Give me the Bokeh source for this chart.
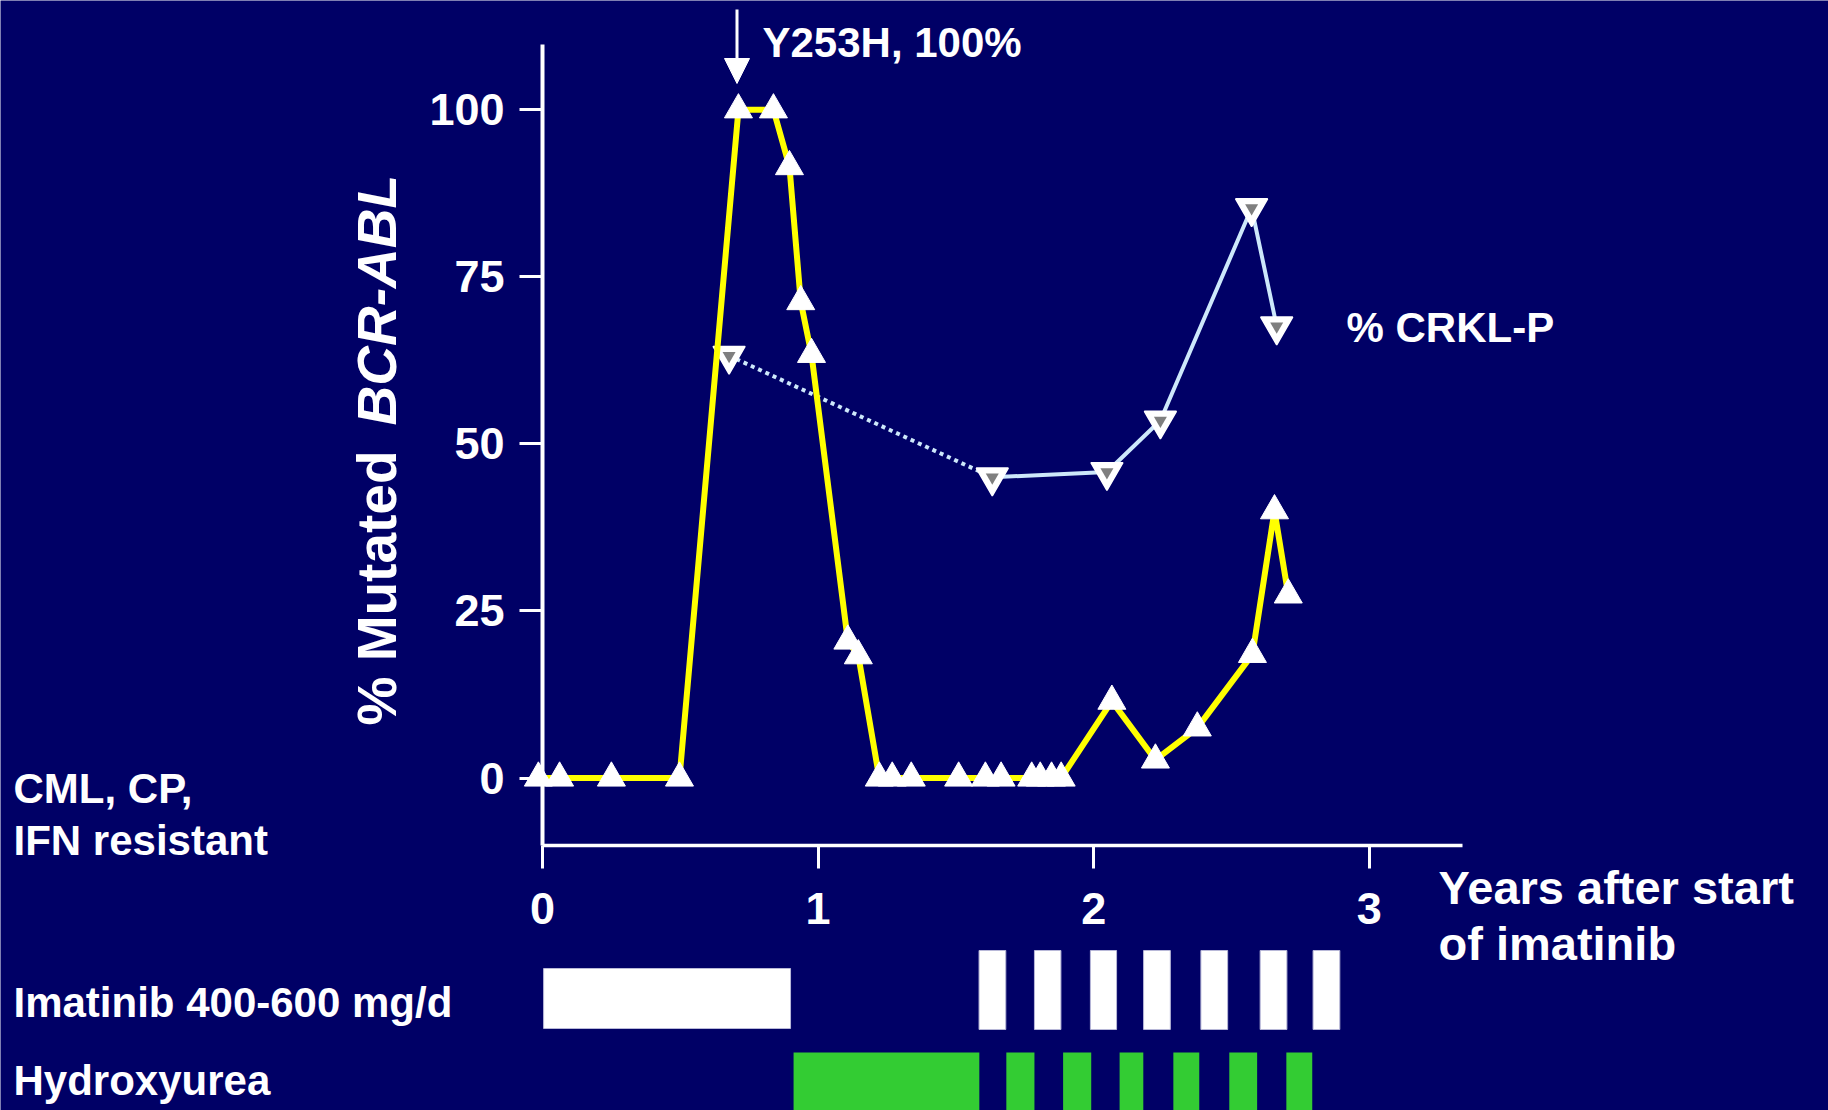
from math import pi
from bokeh.plotting import figure
from bokeh.models import (Range1d, LinearAxis, FixedTicker, Label, Arrow, NormalHead)
from bokeh.embed import file_html
from bokeh.resources import INLINE

# ---------------- data ----------------
# % mutated BCR-ABL (Y253H) over years after start of imatinib
mut_years = [-0.015, 0.062, 0.25, 0.497, 0.711, 0.838, 0.896, 0.937, 0.976, 1.108, 1.146,
             1.222, 1.269, 1.338, 1.51, 1.607, 1.664, 1.775, 1.806, 1.847, 1.882,
             2.066, 2.224, 2.376, 2.576, 2.656, 2.706]
mut_pct = [0, 0, 0, 0, 100, 100, 91.5, 71.3, 63.4, 20.5, 18.3,
           0, 0, 0, 0, 0, 0, 0, 0, 0, 0,
           11.5, 2.7, 7.5, 18.5, 40.0, 27.4]

# % CRKL-P
crkl_years = [0.677, 1.632, 2.048, 2.242, 2.573, 2.664]
crkl_pct = [63.2, 45.0, 45.8, 53.5, 85.3, 67.6]

# treatment periods (years)
imatinib_start = [0.004, 1.584, 1.785, 1.988, 2.181, 2.389, 2.604, 2.796]
imatinib_end = [0.900, 1.681, 1.881, 2.083, 2.278, 2.486, 2.701, 2.893]
hydroxy_start = [0.911, 1.683, 1.889, 2.094, 2.289, 2.492, 2.699]
hydroxy_end = [1.585, 1.785, 1.991, 2.180, 2.383, 2.593, 2.793]

x_ticks = [0, 1, 2, 3]
y_ticks = [0, 25, 50, 75, 100]
mutation_label = "Y253H, 100%"

# ---------------- layout helpers ----------------
W, H = 1828, 1110
X0_PX, PX_PER_YEAR = 542.0, 275.6
Y0_PX, PX_PER_PCT = 777.5, 6.682


def X(px):
    return (px - X0_PX) / PX_PER_YEAR


def Y(py):
    return (Y0_PX - py) / PX_PER_PCT


BG = "#000066"
FONT = "Liberation Sans"

p = figure(width=W, height=H, output_backend="svg", toolbar_location=None,
           x_range=Range1d(X(0), X(W)), y_range=Range1d(Y(H), Y(0)),
           x_axis_type=None, y_axis_type=None, min_border=0,
           background_fill_color=BG, border_fill_color=BG, outline_line_color=None)
p.xgrid.visible = False
p.ygrid.visible = False

# axes
yaxis = LinearAxis(fixed_location=0, bounds=(Y(845), Y(44)),
                   ticker=FixedTicker(ticks=y_ticks))
xaxis = LinearAxis(fixed_location=Y(845), bounds=(0, X(1462)),
                   ticker=FixedTicker(ticks=x_ticks))
for ax in (yaxis, xaxis):
    ax.axis_line_color = "white"
    ax.major_tick_line_color = "white"
    ax.major_tick_line_width = 3
    ax.minor_tick_line_color = None
    ax.major_tick_in = 0
    ax.major_tick_out = 23
    ax.major_label_text_color = "white"
    ax.major_label_text_font = FONT
    ax.major_label_text_font_style = "bold"
    ax.major_label_text_font_size = "45px"
yaxis.axis_line_width = 4
xaxis.axis_line_width = 3.5
yaxis.major_label_standoff = 15
xaxis.major_label_standoff = 24
p.add_layout(yaxis, "left")
p.add_layout(xaxis, "below")

# CRKL-P line (first segment dotted)
p.line(crkl_years[:2], crkl_pct[:2], line_color="#cde8fb", line_width=4, line_dash="4 4")
p.line(crkl_years[1:], crkl_pct[1:], line_color="#cde8fb", line_width=4)
p.scatter(crkl_years, crkl_pct, marker="inverted_triangle", size=32,
          fill_color="white", line_color="white", line_width=1.5)
p.scatter(crkl_years, crkl_pct, marker="inverted_triangle", size=13,
          fill_color="#7f7f7f", line_color=None)

# mutated BCR-ABL line
p.line(mut_years, mut_pct, line_color="#ffff00", line_width=6)
p.scatter(mut_years, mut_pct, marker="triangle", size=28,
          fill_color="white", line_color="white", line_width=1)

# treatment bars
first_top, first_bottom = Y(968), Y(1028)
narrow_top, narrow_bottom = Y(950), Y(1029)
p.quad(left=imatinib_start, right=imatinib_end,
       top=[first_top] + [narrow_top] * (len(imatinib_start) - 1),
       bottom=[first_bottom] + [narrow_bottom] * (len(imatinib_start) - 1),
       fill_color="white", line_color="#b8b8d8", line_width=1)
p.quad(left=hydroxy_start, right=hydroxy_end, top=Y(1052), bottom=Y(1130),
       fill_color="#33cc33", line_color=None)

# arrow marking mutation
p.add_layout(Arrow(end=NormalHead(size=25, fill_color="white", line_color="white"),
                   x_start=X(736.5), y_start=Y(9), x_end=X(736.5), y_end=Y(83),
                   line_color="white", line_width=3))

SHIFT = 0.36  # empirical baseline correction (fraction of font size)


def lab(text, px, py, size=42, style="bold", angle=0):
    if angle:
        px -= SHIFT * size
    else:
        py -= SHIFT * size
    p.add_layout(Label(x=X(px), y=Y(py), text=text, text_color="white",
                       text_font=FONT, text_font_style=style, text_font_size=f"{size}px",
                       text_align="left", text_baseline="alphabetic", angle=angle))


lab(mutation_label, 762, 57)
lab("% CRKL-P", 1346, 342)
lab("CML, CP,", 13, 803)
lab("IFN resistant", 13, 855)
lab("Imatinib 400-600 mg/d", 13, 1017)
lab("Hydroxyurea", 13, 1095)
lab("Years after start", 1438, 904, size=47)
lab("of imatinib", 1438, 960, size=47)
lab("% Mutated", 396, 725, size=55, angle=pi / 2)
lab("BCR-ABL", 396, 425, size=55, style="bold italic", angle=pi / 2)

open("out.html", "w").write(file_html(p, INLINE))
